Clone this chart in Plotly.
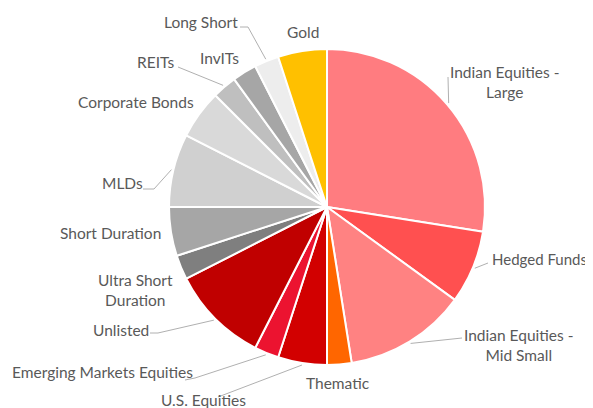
import math
import plotly.graph_objects as go

# ---- data ----
labels = ["Indian Equities - Large", "Hedged Funds", "Indian Equities - Mid Small",
          "Thematic", "U.S. Equities", "Emerging Markets Equities", "Unlisted",
          "Ultra Short Duration", "Short Duration", "MLDs", "Corporate Bonds",
          "REITs", "InvITs", "Long Short", "Gold"]
values = [27.5, 7.5, 12.5, 2.5, 5, 2.5, 10, 2.5, 5, 7.5, 5, 2.5, 2.5, 2.5, 5]
label_text = ["Indian Equities -<br>Large", "Hedged Funds", "Indian Equities -<br>Mid Small",
              "Thematic", "U.S. Equities", "Emerging Markets Equities", "Unlisted",
              "Ultra Short<br>Duration", "Short Duration", "MLDs", "Corporate Bonds",
              "REITs", "InvITs", "Long Short", "Gold"]
colors = ["#FF7C80", "#FF5050", "#FF8282", "#FF6600", "#D20000", "#EC1330", "#C00000",
          "#7F7F7F", "#A6A6A6", "#D0D0D0", "#D9D9D9", "#BFBFBF", "#A6A6A6", "#EDEDED",
          "#FFC000"]

# ---- layout constants (pixels in the 593x408 window) ----
OFF = 8                      # page body margin
W, H = 593 - OFF, 408 - OFF  # figure size
CX, CY, R = 327, 207, 158

# label placement: (x, y, xanchor)
label_pos = [(504, 82, "center"), (589, 259, "right"), (518, 345, "center"),
             (338, 383, "center"), (204, 400, "center"), (102, 372, "center"),
             (121, 330, "center"), (135, 290, "center"), (110, 233, "center"),
             (122, 183, "center"), (136, 102, "center"), (155, 62, "center"),
             (219, 58, "center"), (201, 22, "center"), (303, 32, "center")]
label_size = [15.5, 15, 15.5, 15.5, 15.5, 15.5, 15.5, 15.5, 15.5, 15.5, 15.5,
              15.5, 15.5, 15.5, 15.5]
# leader line start points (list of points before the pie edge), None = no leader
leader_start = [[(448, 77)], [(488, 263)], [(462, 338)], None, [(218, 397)],
                [(185, 380), (195, 378)], [(150, 333), (158, 333)], None, None,
                [(143, 189), (154, 189)], None, [(178, 67)], None,
                [(240, 27), (248, 27)], None]


def px(x):
    return (x - OFF) / W


def py(y):
    return 1 - (y - OFF) / H


fig = go.Figure(go.Pie(
    labels=labels, values=values, sort=False, direction="clockwise", rotation=0,
    marker=dict(colors=colors, line=dict(color="white", width=2)),
    textinfo="none", hoverinfo="label+percent", showlegend=False,
    domain=dict(x=[px(CX - R), px(CX + R)], y=[py(CY + R), py(CY - R)]),
))

total = sum(values)
cum = 0
shapes = []
annotations = []
for i, v in enumerate(values):
    mid = (cum + v / 2) / total * 2 * math.pi
    cum += v
    ex = CX + (R + 2) * math.sin(mid)
    ey = CY - (R + 2) * math.cos(mid)
    if leader_start[i]:
        pts = leader_start[i] + [(ex, ey)]
        path = "M " + " L ".join(f"{px(a):.5f},{py(b):.5f}" for a, b in pts)
        shapes.append(dict(type="path", xref="paper", yref="paper", path=path,
                           line=dict(color="#B0B0B0", width=1)))
    lx, ly, xa = label_pos[i]
    annotations.append(dict(x=px(lx), y=py(ly), xref="paper", yref="paper",
                            text=label_text[i], showarrow=False, xanchor=xa,
                            yanchor="middle", align="center",
                            font=dict(family="Lato, Open Sans, sans-serif",
                                      size=label_size[i], color="#595959")))

fig.update_layout(width=W, height=H, margin=dict(l=0, r=0, t=0, b=0),
                  paper_bgcolor="white", plot_bgcolor="white",
                  shapes=shapes, annotations=annotations)
fig.write_html("out.html")
